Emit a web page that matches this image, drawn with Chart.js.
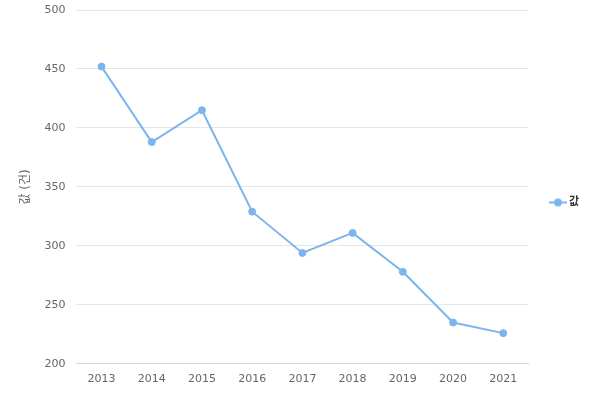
<!DOCTYPE html>
<html>
<head>
<meta charset="utf-8">
<script src="https://cdn.jsdelivr.net/npm/chart.js@4"></script>
<style>
  html, body { margin: 0; padding: 0; background: #fff; }
  #wrap { width: 600px; height: 400px; }
</style>
</head>
<body>
<div id="wrap"><canvas id="chart"></canvas></div>
<script>
// data
const years = ['2013', '2014', '2015', '2016', '2017', '2018', '2019', '2020', '2021'];
const values = [452, 388, 415, 329, 294, 311, 278, 235, 226];
const yTicks = [200, 250, 300, 350, 400, 450, 500];

const lineColor = '#7cb5ec';
const fontFamily = '"DejaVu Sans", "Noto Sans CJK KR", sans-serif';

// legend symbol: short line with a dot in the middle
function legendSymbol() {
  const c = document.createElement('canvas');
  c.width = 18; c.height = 10;
  const g = c.getContext('2d');
  g.strokeStyle = lineColor;
  g.lineWidth = 2;
  g.beginPath();
  g.moveTo(0, 5);
  g.lineTo(18, 5);
  g.stroke();
  g.fillStyle = lineColor;
  g.beginPath();
  g.arc(9, 5, 4, 0, Math.PI * 2);
  g.fill();
  return c;
}

new Chart(document.getElementById('chart'), {
  type: 'line',
  data: {
    labels: years,
    datasets: [{
      label: '값',
      data: values,
      borderColor: lineColor,
      backgroundColor: lineColor,
      borderWidth: 2,
      pointRadius: 3.5,
      pointBorderWidth: 1,
      pointHoverRadius: 5,
      tension: 0
    }]
  },
  options: {
    responsive: true,
    maintainAspectRatio: false,
    animation: false,
    layout: { padding: { top: 10, right: 11, bottom: 5, left: 19 } },
    scales: {
      x: {
        offset: true,
        grid: { display: false, drawTicks: false },
        border: { color: '#ccd6eb' },
        ticks: { color: '#666', font: { family: fontFamily, size: 11 }, padding: 9 }
      },
      y: {
        min: 200,
        max: 500,
        afterBuildTicks: axis => { axis.ticks = yTicks.map(v => ({ value: v })); },
        // let the top tick label hang over the padding instead of pushing the plot down
        afterFit: axis => { axis.paddingTop = 0; axis.paddingBottom = 0; },
        grid: { color: '#e6e6e6', drawTicks: false },
        border: { display: false },
        ticks: { color: '#666', font: { family: fontFamily, size: 11 }, padding: 11 },
        title: {
          display: true,
          text: '값 (건)',
          color: '#666',
          padding: { top: 0, bottom: 0 },
          font: { family: fontFamily, size: 12 }
        }
      }
    },
    plugins: {
      legend: {
        position: 'right',
        labels: {
          usePointStyle: true,
          padding: 24,
          color: '#333',
          font: { family: fontFamily, size: 11, weight: 'bold' },
          generateLabels: chart => {
            const items = Chart.defaults.plugins.legend.labels.generateLabels(chart);
            items.forEach(it => { it.pointStyle = legendSymbol(); });
            return items;
          }
        }
      },
      tooltip: { enabled: false }
    }
  }
});
</script>
</body>
</html>
